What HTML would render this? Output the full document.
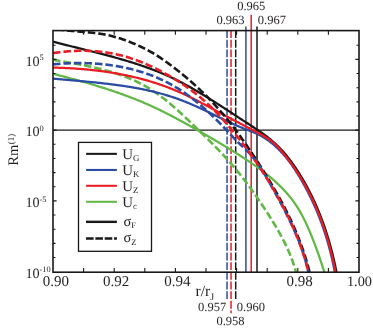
<!DOCTYPE html><html><head><meta charset="utf-8"><style>html,body{margin:0;padding:0;background:#fff}svg{display:block}text{font-family:"Liberation Serif",serif;fill:#231f20;text-rendering:geometricPrecision}</style></head><body>
<svg width="373" height="329" viewBox="0 0 373 329" style="will-change:transform">
<rect width="373" height="329" fill="#fff"/>
<defs><clipPath id="c"><rect x="53.0" y="30.6" width="306.0" height="241.6"/></clipPath></defs>
<line x1="227.05" y1="30.1" x2="227.05" y2="299.9" stroke="#2c4ca4" stroke-width="1.5" stroke-dasharray="7.9 1.77"/>
<line x1="231.05" y1="30.1" x2="231.05" y2="313.2" stroke="#ea1c24" stroke-width="1.5" stroke-dasharray="7.9 1.77"/>
<line x1="235.7" y1="30.1" x2="235.7" y2="299.9" stroke="#1a1718" stroke-width="1.5" stroke-dasharray="7.9 1.77"/>
<line x1="245.9" y1="26.5" x2="245.9" y2="272.2" stroke="#2c4ca4" stroke-width="1.5"/>
<line x1="251.2" y1="14.7" x2="251.2" y2="272.2" stroke="#ea1c24" stroke-width="1.5"/>
<line x1="257.0" y1="26.5" x2="257.0" y2="272.2" stroke="#1a1718" stroke-width="1.5"/>
<line x1="53.0" y1="130.15" x2="359.0" y2="130.15" stroke="#1a1718" stroke-width="1.1"/>
<g clip-path="url(#c)" fill="none" stroke-width="2.25" stroke-linejoin="round">
<path d="M53.00,73.80 L53.86,74.02 L54.72,74.24 L55.57,74.46 L56.43,74.68 L57.29,74.90 L58.15,75.12 L59.01,75.34 L59.87,75.56 L60.72,75.79 L61.58,76.01 L62.44,76.23 L63.30,76.46 L64.15,76.68 L65.01,76.91 L65.87,77.13 L66.73,77.36 L67.58,77.59 L68.44,77.82 L69.30,78.04 L70.16,78.27 L71.01,78.50 L71.87,78.73 L72.73,78.97 L73.58,79.20 L74.44,79.43 L75.29,79.66 L76.15,79.90 L77.00,80.13 L77.86,80.37 L78.72,80.61 L79.57,80.84 L80.42,81.08 L81.28,81.32 L82.13,81.56 L82.99,81.80 L83.84,82.05 L84.69,82.29 L85.55,82.53 L86.40,82.78 L87.25,83.02 L88.11,83.27 L88.96,83.52 L89.81,83.77 L90.66,84.02 L91.51,84.27 L92.36,84.52 L93.21,84.77 L94.06,85.03 L94.91,85.28 L95.76,85.54 L96.61,85.80 L97.46,86.05 L98.31,86.31 L99.15,86.57 L100.00,86.84 L100.85,87.10 L101.69,87.37 L102.54,87.63 L103.39,87.90 L104.23,88.17 L105.08,88.44 L105.92,88.71 L106.76,88.98 L107.61,89.25 L108.45,89.53 L109.29,89.81 L110.13,90.08 L110.98,90.36 L111.82,90.64 L112.66,90.93 L113.50,91.21 L114.34,91.49 L115.17,91.78 L116.01,92.07 L116.85,92.36 L117.69,92.65 L118.52,92.94 L119.36,93.24 L120.19,93.53 L121.03,93.83 L121.86,94.13 L122.70,94.43 L123.53,94.73 L124.36,95.03 L125.19,95.34 L126.02,95.65 L126.85,95.95 L127.68,96.27 L128.51,96.58 L129.34,96.89 L130.17,97.21 L131.00,97.52 L131.82,97.84 L132.65,98.16 L133.47,98.49 L134.30,98.81 L135.12,99.14 L135.94,99.47 L136.76,99.80 L137.59,100.13 L138.41,100.46 L139.23,100.80 L140.04,101.14 L140.86,101.48 L141.68,101.82 L142.50,102.16 L143.31,102.51 L144.13,102.86 L144.94,103.21 L145.75,103.56 L146.57,103.91 L147.38,104.27 L148.19,104.62 L149.00,104.98 L149.81,105.35 L150.61,105.71 L151.42,106.08 L152.23,106.45 L153.03,106.82 L153.84,107.19 L154.64,107.56 L155.45,107.94 L156.25,108.32 L157.05,108.70 L157.85,109.08 L158.65,109.47 L159.45,109.85 L160.25,110.24 L161.04,110.63 L161.84,111.02 L162.64,111.41 L163.43,111.81 L164.23,112.20 L165.02,112.60 L165.81,113.00 L166.60,113.40 L167.40,113.80 L168.19,114.20 L168.98,114.61 L169.77,115.02 L170.55,115.42 L171.34,115.83 L172.13,116.24 L172.92,116.66 L173.70,117.07 L174.49,117.48 L175.27,117.90 L176.06,118.31 L176.84,118.73 L177.62,119.15 L178.41,119.57 L179.19,119.99 L179.97,120.41 L180.75,120.84 L181.53,121.26 L182.31,121.68 L183.09,122.11 L183.86,122.54 L184.64,122.96 L185.42,123.39 L186.20,123.82 L186.97,124.25 L187.75,124.68 L188.52,125.11 L189.30,125.54 L190.07,125.98 L190.84,126.41 L191.62,126.84 L192.39,127.28 L193.16,127.71 L193.93,128.15 L194.71,128.58 L195.48,129.02 L196.25,129.45 L197.02,129.89 L197.79,130.33 L198.56,130.76 L199.32,131.20 L200.09,131.64 L200.86,132.08 L201.63,132.51 L202.39,132.95 L203.16,133.39 L203.93,133.83 L204.69,134.27 L205.46,134.71 L206.22,135.15 L206.99,135.59 L207.75,136.03 L208.52,136.48 L209.28,136.92 L210.04,137.36 L210.81,137.81 L211.57,138.25 L212.33,138.70 L213.09,139.14 L213.85,139.59 L214.61,140.03 L215.37,140.48 L216.14,140.93 L216.89,141.38 L217.65,141.83 L218.41,142.28 L219.17,142.73 L219.93,143.18 L220.69,143.63 L221.45,144.09 L222.20,144.54 L222.96,145.00 L223.72,145.45 L224.47,145.91 L225.23,146.37 L225.98,146.83 L226.74,147.29 L227.49,147.75 L228.25,148.21 L229.00,148.67 L229.76,149.13 L230.51,149.60 L231.26,150.06 L232.02,150.53 L232.77,151.00 L233.52,151.47 L234.27,151.94 L235.02,152.41 L235.78,152.88 L236.53,153.35 L237.28,153.83 L238.03,154.30 L238.78,154.78 L239.53,155.26 L240.28,155.74 L241.02,156.22 L241.77,156.70 L242.52,157.19 L243.27,157.67 L244.02,158.16 L244.76,158.65 L245.51,159.13 L246.25,159.63 L247.00,160.12 L247.74,160.61 L248.48,161.11 L249.22,161.61 L249.97,162.11 L250.70,162.61 L251.44,163.11 L252.18,163.61 L252.91,164.12 L253.65,164.63 L254.38,165.14 L255.11,165.65 L255.84,166.17 L256.57,166.69 L257.29,167.20 L258.02,167.73 L258.74,168.25 L259.46,168.78 L260.18,169.30 L260.89,169.84 L261.61,170.37 L262.32,170.90 L263.03,171.44 L263.74,171.98 L264.44,172.53 L265.14,173.07 L265.84,173.62 L266.54,174.17 L267.23,174.73 L267.92,175.28 L268.61,175.84 L269.30,176.40 L269.98,176.97 L270.66,177.54 L271.34,178.11 L272.01,178.68 L272.68,179.26 L273.35,179.84 L274.02,180.42 L274.68,181.01 L275.33,181.60 L275.99,182.19 L276.64,182.79 L277.28,183.39 L277.93,183.99 L278.56,184.60 L279.20,185.21 L279.83,185.82 L280.46,186.44 L281.08,187.06 L281.70,187.69 L282.31,188.32 L282.92,188.95 L283.53,189.58 L284.13,190.22 L284.73,190.87 L285.32,191.51 L285.91,192.16 L286.49,192.82 L287.07,193.48 L287.65,194.14 L288.22,194.81 L288.78,195.48 L289.34,196.16 L289.89,196.84 L290.44,197.52 L290.99,198.21 L291.53,198.90 L292.06,199.60 L292.59,200.30 L293.11,201.00 L293.63,201.71 L294.14,202.43 L294.64,203.15 L295.14,203.87 L295.64,204.60 L296.13,205.33 L296.61,206.07 L297.09,206.81 L297.56,207.56 L298.03,208.31 L298.49,209.06 L298.95,209.82 L299.40,210.58 L299.84,211.35 L300.29,212.12 L300.72,212.89 L301.15,213.67 L301.58,214.44 L302.01,215.23 L302.42,216.01 L302.84,216.80 L303.25,217.59 L303.65,218.39 L304.06,219.18 L304.45,219.98 L304.85,220.78 L305.24,221.59 L305.62,222.39 L306.00,223.20 L306.38,224.01 L306.76,224.82 L307.13,225.64 L307.50,226.45 L307.86,227.27 L308.22,228.09 L308.58,228.91 L308.94,229.73 L309.29,230.55 L309.64,231.37 L309.99,232.20 L310.33,233.02 L310.68,233.85 L311.02,234.67 L311.35,235.50 L311.69,236.33 L312.02,237.16 L312.35,237.98 L312.68,238.81 L313.00,239.64 L313.33,240.47 L313.65,241.30 L313.97,242.13 L314.29,242.96 L314.60,243.79 L314.92,244.62 L315.23,245.45 L315.54,246.29 L315.85,247.12 L316.15,247.95 L316.46,248.78 L316.76,249.62 L317.06,250.45 L317.36,251.28 L317.66,252.12 L317.95,252.95 L318.25,253.79 L318.54,254.62 L318.83,255.46 L319.12,256.29 L319.41,257.13 L319.70,257.96 L319.98,258.80 L320.27,259.64 L320.55,260.47 L320.83,261.31 L321.11,262.14 L321.39,262.98 L321.67,263.82 L321.95,264.66 L322.23,265.49 L322.50,266.33 L322.78,267.17 L323.05,268.01 L323.32,268.84 L323.59,269.68 L323.86,270.52 L324.13,271.36 L324.40,272.20" stroke="#62b846"/>
<path d="M53.00,59.81 L53.82,59.95 L54.65,60.08 L55.48,60.22 L56.31,60.36 L57.14,60.50 L57.97,60.64 L58.80,60.78 L59.63,60.92 L60.46,61.06 L61.30,61.20 L62.13,61.34 L62.97,61.48 L63.80,61.62 L64.64,61.77 L65.47,61.91 L66.31,62.05 L67.15,62.20 L67.99,62.34 L68.83,62.49 L69.67,62.64 L70.51,62.79 L71.35,62.94 L72.19,63.09 L73.03,63.24 L73.87,63.39 L74.72,63.54 L75.56,63.70 L76.40,63.85 L77.24,64.01 L78.09,64.17 L78.93,64.33 L79.77,64.49 L80.61,64.65 L81.46,64.82 L82.30,64.98 L83.14,65.15 L83.98,65.32 L84.83,65.49 L85.67,65.66 L86.51,65.83 L87.35,66.01 L88.19,66.19 L89.04,66.37 L89.88,66.55 L90.72,66.73 L91.56,66.92 L92.40,67.10 L93.24,67.29 L94.07,67.48 L94.91,67.68 L95.75,67.87 L96.59,68.07 L97.42,68.27 L98.26,68.47 L99.09,68.68 L99.93,68.88 L100.76,69.09 L101.59,69.30 L102.42,69.52 L103.25,69.74 L104.08,69.96 L104.91,70.18 L105.74,70.40 L106.57,70.63 L107.39,70.86 L108.21,71.09 L109.04,71.33 L109.86,71.57 L110.68,71.81 L111.50,72.06 L112.32,72.30 L113.14,72.56 L113.95,72.81 L114.77,73.07 L115.58,73.33 L116.39,73.59 L117.20,73.86 L118.01,74.13 L118.82,74.40 L119.62,74.68 L120.42,74.96 L121.23,75.24 L122.03,75.53 L122.83,75.82 L123.62,76.12 L124.42,76.42 L125.21,76.72 L126.00,77.03 L126.79,77.33 L127.58,77.65 L128.37,77.97 L129.15,78.29 L129.93,78.61 L130.71,78.94 L131.49,79.28 L132.26,79.61 L133.04,79.95 L133.81,80.30 L134.58,80.65 L135.34,81.00 L136.11,81.36 L136.87,81.73 L137.63,82.09 L138.39,82.46 L139.14,82.84 L139.89,83.22 L140.64,83.61 L141.39,84.00 L142.13,84.39 L142.88,84.79 L143.61,85.19 L144.35,85.60 L145.09,86.01 L145.82,86.43 L146.55,86.86 L147.27,87.28 L147.99,87.71 L148.72,88.15 L149.43,88.59 L150.15,89.04 L150.86,89.49 L151.57,89.94 L152.28,90.40 L152.99,90.86 L153.69,91.33 L154.39,91.80 L155.09,92.27 L155.79,92.75 L156.48,93.24 L157.17,93.72 L157.86,94.21 L158.55,94.70 L159.24,95.20 L159.92,95.70 L160.60,96.21 L161.28,96.71 L161.96,97.23 L162.63,97.74 L163.31,98.26 L163.98,98.78 L164.65,99.30 L165.32,99.83 L165.98,100.36 L166.65,100.89 L167.31,101.42 L167.97,101.96 L168.63,102.50 L169.29,103.05 L169.94,103.59 L170.60,104.14 L171.25,104.69 L171.90,105.25 L172.55,105.80 L173.20,106.36 L173.84,106.92 L174.49,107.48 L175.13,108.05 L175.78,108.61 L176.42,109.18 L177.06,109.75 L177.70,110.33 L178.33,110.90 L178.97,111.48 L179.60,112.05 L180.24,112.63 L180.87,113.21 L181.50,113.79 L182.13,114.38 L182.76,114.96 L183.39,115.55 L184.02,116.13 L184.64,116.72 L185.27,117.31 L185.89,117.90 L186.52,118.49 L187.14,119.09 L187.76,119.68 L188.38,120.27 L189.01,120.87 L189.63,121.46 L190.24,122.06 L190.86,122.65 L191.48,123.25 L192.10,123.85 L192.72,124.45 L193.33,125.04 L193.95,125.64 L194.57,126.24 L195.18,126.84 L195.80,127.43 L196.41,128.03 L197.02,128.63 L197.64,129.23 L198.25,129.83 L198.87,130.42 L199.48,131.02 L200.09,131.62 L200.70,132.21 L201.32,132.81 L201.93,133.40 L202.54,134.00 L203.15,134.60 L203.76,135.19 L204.37,135.79 L204.98,136.39 L205.59,136.98 L206.20,137.58 L206.81,138.18 L207.41,138.77 L208.02,139.37 L208.63,139.97 L209.23,140.57 L209.83,141.16 L210.44,141.76 L211.04,142.36 L211.64,142.96 L212.24,143.56 L212.84,144.16 L213.44,144.77 L214.04,145.37 L214.63,145.97 L215.23,146.58 L215.82,147.18 L216.42,147.79 L217.01,148.39 L217.60,149.00 L218.19,149.61 L218.78,150.22 L219.36,150.83 L219.95,151.44 L220.53,152.06 L221.12,152.67 L221.70,153.29 L222.28,153.90 L222.86,154.52 L223.43,155.14 L224.01,155.76 L224.58,156.38 L225.16,157.01 L225.73,157.63 L226.30,158.26 L226.87,158.88 L227.43,159.51 L228.00,160.14 L228.56,160.77 L229.12,161.41 L229.68,162.04 L230.24,162.68 L230.80,163.32 L231.36,163.96 L231.91,164.60 L232.46,165.24 L233.01,165.89 L233.56,166.53 L234.11,167.18 L234.65,167.83 L235.20,168.48 L235.74,169.13 L236.28,169.79 L236.82,170.44 L237.36,171.10 L237.89,171.76 L238.43,172.42 L238.96,173.08 L239.49,173.74 L240.02,174.40 L240.55,175.07 L241.08,175.74 L241.61,176.40 L242.13,177.07 L242.65,177.74 L243.17,178.42 L243.69,179.09 L244.21,179.76 L244.73,180.44 L245.25,181.12 L245.76,181.79 L246.27,182.47 L246.79,183.15 L247.30,183.84 L247.81,184.52 L248.31,185.20 L248.82,185.89 L249.33,186.57 L249.83,187.26 L250.33,187.95 L250.83,188.64 L251.33,189.33 L251.83,190.02 L252.33,190.72 L252.83,191.41 L253.32,192.10 L253.82,192.80 L254.31,193.50 L254.80,194.19 L255.29,194.89 L255.78,195.59 L256.27,196.29 L256.76,197.00 L257.24,197.70 L257.73,198.40 L258.21,199.11 L258.69,199.81 L259.17,200.52 L259.65,201.22 L260.13,201.93 L260.61,202.64 L261.09,203.35 L261.56,204.06 L262.04,204.77 L262.51,205.48 L262.99,206.19 L263.46,206.91 L263.93,207.62 L264.40,208.33 L264.87,209.05 L265.34,209.76 L265.80,210.48 L266.27,211.20 L266.73,211.92 L267.20,212.63 L267.66,213.35 L268.12,214.07 L268.58,214.79 L269.04,215.51 L269.50,216.23 L269.96,216.96 L270.42,217.68 L270.87,218.40 L271.32,219.13 L271.77,219.85 L272.22,220.58 L272.67,221.31 L273.12,222.04 L273.56,222.77 L274.01,223.50 L274.45,224.23 L274.89,224.96 L275.32,225.69 L275.76,226.43 L276.19,227.16 L276.62,227.90 L277.05,228.63 L277.48,229.37 L277.90,230.11 L278.33,230.85 L278.75,231.59 L279.16,232.34 L279.58,233.08 L279.99,233.83 L280.40,234.57 L280.81,235.32 L281.21,236.07 L281.62,236.82 L282.01,237.57 L282.41,238.32 L282.80,239.08 L283.19,239.83 L283.58,240.59 L283.97,241.35 L284.35,242.11 L284.73,242.87 L285.10,243.63 L285.47,244.39 L285.84,245.16 L286.21,245.92 L286.57,246.69 L286.92,247.46 L287.28,248.23 L287.63,249.01 L287.98,249.78 L288.32,250.56 L288.66,251.34 L289.00,252.12 L289.33,252.90 L289.66,253.68 L289.98,254.46 L290.30,255.25 L290.62,256.04 L290.93,256.83 L291.24,257.62 L291.54,258.41 L291.84,259.21 L292.14,260.01 L292.43,260.80 L292.71,261.60 L293.00,262.41 L293.27,263.21 L293.55,264.02 L293.81,264.83 L294.08,265.64 L294.34,266.45 L294.59,267.26 L294.84,268.08 L295.08,268.90 L295.32,269.72 L295.56,270.54 L295.79,271.37 L296.01,272.20" stroke="#62b846" stroke-dasharray="7.5 3" stroke-width="2.6"/>
<path d="M53.00,78.60 L53.93,78.69 L54.87,78.78 L55.80,78.86 L56.73,78.95 L57.67,79.04 L58.60,79.12 L59.54,79.21 L60.47,79.29 L61.41,79.38 L62.35,79.46 L63.29,79.55 L64.22,79.63 L65.16,79.71 L66.10,79.80 L67.04,79.88 L67.98,79.96 L68.92,80.05 L69.86,80.13 L70.80,80.21 L71.74,80.30 L72.68,80.38 L73.62,80.46 L74.56,80.55 L75.50,80.63 L76.45,80.71 L77.39,80.80 L78.33,80.88 L79.27,80.97 L80.22,81.05 L81.16,81.14 L82.10,81.22 L83.05,81.31 L83.99,81.40 L84.93,81.49 L85.88,81.57 L86.82,81.66 L87.77,81.75 L88.71,81.84 L89.65,81.93 L90.60,82.02 L91.54,82.12 L92.49,82.21 L93.43,82.30 L94.38,82.40 L95.32,82.49 L96.27,82.59 L97.21,82.69 L98.15,82.78 L99.10,82.88 L100.04,82.98 L100.99,83.09 L101.93,83.19 L102.87,83.29 L103.82,83.40 L104.76,83.51 L105.70,83.61 L106.65,83.72 L107.59,83.83 L108.53,83.94 L109.48,84.06 L110.42,84.17 L111.36,84.29 L112.30,84.41 L113.24,84.53 L114.19,84.65 L115.13,84.77 L116.07,84.89 L117.01,85.02 L117.95,85.15 L118.89,85.28 L119.83,85.41 L120.77,85.54 L121.70,85.68 L122.64,85.81 L123.58,85.95 L124.52,86.09 L125.45,86.24 L126.39,86.38 L127.33,86.53 L128.26,86.68 L129.20,86.83 L130.13,86.98 L131.06,87.14 L132.00,87.30 L132.93,87.46 L133.86,87.62 L134.79,87.79 L135.73,87.95 L136.66,88.12 L137.59,88.30 L138.51,88.47 L139.44,88.65 L140.37,88.83 L141.30,89.01 L142.22,89.20 L143.15,89.39 L144.08,89.58 L145.00,89.77 L145.92,89.97 L146.85,90.17 L147.77,90.37 L148.69,90.57 L149.61,90.78 L150.53,90.99 L151.45,91.20 L152.37,91.42 L153.28,91.64 L154.20,91.86 L155.11,92.09 L156.03,92.32 L156.94,92.55 L157.85,92.79 L158.77,93.03 L159.68,93.27 L160.59,93.51 L161.50,93.76 L162.40,94.02 L163.31,94.27 L164.22,94.53 L165.12,94.79 L166.02,95.06 L166.93,95.33 L167.83,95.60 L168.73,95.88 L169.63,96.16 L170.53,96.45 L171.42,96.74 L172.32,97.03 L173.21,97.32 L174.11,97.62 L175.00,97.93 L175.89,98.24 L176.78,98.55 L177.67,98.86 L178.56,99.18 L179.44,99.51 L180.33,99.83 L181.21,100.17 L182.10,100.50 L182.98,100.84 L183.86,101.19 L184.74,101.53 L185.61,101.88 L186.49,102.24 L187.37,102.60 L188.24,102.96 L189.11,103.32 L189.99,103.69 L190.86,104.06 L191.73,104.43 L192.60,104.81 L193.47,105.19 L194.33,105.57 L195.20,105.95 L196.07,106.34 L196.93,106.73 L197.79,107.12 L198.66,107.51 L199.52,107.91 L200.38,108.30 L201.24,108.70 L202.10,109.10 L202.96,109.50 L203.82,109.91 L204.68,110.31 L205.53,110.72 L206.39,111.12 L207.25,111.53 L208.10,111.94 L208.96,112.35 L209.81,112.76 L210.66,113.17 L211.52,113.58 L212.37,113.99 L213.22,114.41 L214.07,114.82 L214.92,115.23 L215.77,115.65 L216.62,116.06 L217.47,116.47 L218.32,116.88 L219.17,117.30 L220.02,117.71 L220.87,118.12 L221.72,118.53 L222.57,118.94 L223.42,119.35 L224.27,119.76 L225.11,120.16 L225.96,120.57 L226.81,120.97 L227.66,121.38 L228.51,121.78 L229.36,122.18 L230.22,122.58 L231.07,122.97 L231.92,123.37 L232.78,123.76 L233.63,124.15 L234.49,124.53 L235.35,124.92 L236.21,125.30 L237.07,125.68 L237.94,126.06 L238.80,126.43 L239.67,126.80 L240.54,127.17 L241.41,127.53 L242.29,127.89 L243.16,128.25 L244.04,128.60 L244.92,128.95 L245.81,129.30 L246.69,129.64 L247.58,129.98 L248.47,130.32 L249.36,130.66 L250.25,130.99 L251.14,131.34 L252.02,131.68 L252.90,132.03 L253.78,132.39 L254.65,132.75 L255.52,133.13 L256.38,133.52 L257.23,133.91 L258.07,134.32 L258.91,134.74 L259.74,135.17 L260.56,135.61 L261.37,136.06 L262.18,136.53 L262.98,137.00 L263.78,137.48 L264.56,137.97 L265.35,138.47 L266.12,138.99 L266.89,139.51 L267.65,140.04 L268.40,140.58 L269.15,141.12 L269.89,141.68 L270.63,142.25 L271.36,142.82 L272.08,143.41 L272.79,144.00 L273.50,144.60 L274.21,145.21 L274.91,145.82 L275.60,146.45 L276.28,147.08 L276.96,147.72 L277.64,148.36 L278.31,149.02 L278.97,149.68 L279.63,150.34 L280.28,151.02 L280.93,151.70 L281.57,152.39 L282.20,153.08 L282.83,153.78 L283.46,154.49 L284.08,155.20 L284.69,155.92 L285.30,156.64 L285.90,157.37 L286.50,158.10 L287.10,158.84 L287.69,159.59 L288.27,160.34 L288.85,161.09 L289.42,161.85 L289.99,162.62 L290.56,163.38 L291.12,164.16 L291.68,164.93 L292.23,165.71 L292.78,166.50 L293.32,167.28 L293.86,168.08 L294.39,168.87 L294.92,169.67 L295.45,170.47 L295.97,171.27 L296.49,172.08 L297.01,172.89 L297.52,173.70 L298.02,174.52 L298.53,175.34 L299.02,176.15 L299.52,176.98 L300.01,177.80 L300.50,178.62 L300.98,179.45 L301.47,180.28 L301.94,181.11 L302.42,181.94 L302.89,182.77 L303.36,183.60 L303.82,184.43 L304.28,185.27 L304.74,186.10 L305.20,186.94 L305.65,187.77 L306.10,188.61 L306.54,189.45 L306.98,190.29 L307.42,191.13 L307.86,191.97 L308.29,192.82 L308.72,193.66 L309.15,194.51 L309.57,195.35 L309.99,196.20 L310.41,197.05 L310.82,197.90 L311.23,198.75 L311.64,199.60 L312.04,200.45 L312.44,201.31 L312.84,202.16 L313.23,203.02 L313.62,203.87 L314.01,204.73 L314.40,205.59 L314.78,206.45 L315.16,207.31 L315.54,208.17 L315.91,209.04 L316.28,209.90 L316.64,210.76 L317.01,211.63 L317.37,212.50 L317.73,213.37 L318.08,214.24 L318.43,215.11 L318.78,215.98 L319.13,216.85 L319.47,217.72 L319.81,218.60 L320.15,219.47 L320.48,220.35 L320.81,221.23 L321.14,222.11 L321.46,222.99 L321.78,223.87 L322.10,224.75 L322.42,225.64 L322.73,226.52 L323.04,227.41 L323.35,228.29 L323.65,229.18 L323.96,230.07 L324.25,230.96 L324.55,231.85 L324.84,232.75 L325.13,233.64 L325.42,234.53 L325.70,235.43 L325.98,236.33 L326.26,237.22 L326.54,238.12 L326.81,239.02 L327.08,239.93 L327.35,240.83 L327.61,241.73 L327.87,242.64 L328.13,243.54 L328.39,244.45 L328.64,245.36 L328.89,246.27 L329.14,247.18 L329.38,248.09 L329.63,249.00 L329.86,249.92 L330.10,250.83 L330.33,251.75 L330.57,252.67 L330.79,253.58 L331.02,254.50 L331.24,255.43 L331.46,256.35 L331.68,257.27 L331.90,258.20 L332.11,259.12 L332.32,260.05 L332.52,260.98 L332.73,261.90 L332.93,262.84 L333.13,263.77 L333.33,264.70 L333.52,265.63 L333.71,266.57 L333.90,267.50 L334.08,268.44 L334.27,269.38 L334.45,270.32 L334.63,271.26 L334.80,272.20" stroke="#2c4ca4"/>
<path d="M53.00,41.61 L53.94,41.86 L54.89,42.11 L55.83,42.36 L56.78,42.61 L57.72,42.85 L58.67,43.10 L59.62,43.35 L60.57,43.59 L61.52,43.84 L62.46,44.08 L63.41,44.32 L64.36,44.56 L65.31,44.81 L66.26,45.05 L67.22,45.29 L68.17,45.53 L69.12,45.77 L70.07,46.01 L71.02,46.25 L71.98,46.48 L72.93,46.72 L73.88,46.96 L74.84,47.20 L75.79,47.44 L76.74,47.67 L77.70,47.91 L78.65,48.15 L79.61,48.38 L80.56,48.62 L81.52,48.86 L82.47,49.10 L83.43,49.33 L84.38,49.57 L85.34,49.81 L86.29,50.05 L87.25,50.28 L88.21,50.52 L89.16,50.76 L90.12,51.00 L91.07,51.24 L92.03,51.48 L92.98,51.72 L93.94,51.96 L94.89,52.20 L95.85,52.44 L96.80,52.69 L97.76,52.93 L98.71,53.17 L99.66,53.42 L100.62,53.67 L101.57,53.91 L102.53,54.16 L103.48,54.41 L104.43,54.66 L105.38,54.91 L106.34,55.16 L107.29,55.41 L108.24,55.66 L109.19,55.92 L110.14,56.17 L111.09,56.43 L112.04,56.69 L112.99,56.94 L113.94,57.20 L114.89,57.47 L115.84,57.73 L116.79,57.99 L117.73,58.26 L118.68,58.53 L119.63,58.79 L120.57,59.07 L121.52,59.34 L122.46,59.61 L123.40,59.89 L124.35,60.16 L125.29,60.44 L126.23,60.72 L127.17,61.00 L128.11,61.29 L129.05,61.57 L129.99,61.86 L130.93,62.15 L131.86,62.44 L132.80,62.74 L133.73,63.03 L134.67,63.33 L135.60,63.63 L136.53,63.93 L137.47,64.24 L138.40,64.54 L139.33,64.85 L140.26,65.16 L141.18,65.48 L142.11,65.79 L143.04,66.11 L143.96,66.43 L144.89,66.76 L145.81,67.08 L146.73,67.41 L147.65,67.74 L148.57,68.08 L149.49,68.41 L150.41,68.75 L151.32,69.10 L152.24,69.44 L153.15,69.79 L154.06,70.14 L154.97,70.49 L155.88,70.85 L156.79,71.21 L157.70,71.57 L158.61,71.94 L159.51,72.31 L160.41,72.68 L161.32,73.05 L162.22,73.43 L163.12,73.81 L164.01,74.20 L164.91,74.59 L165.80,74.98 L166.70,75.37 L167.59,75.77 L168.48,76.17 L169.37,76.58 L170.26,76.99 L171.14,77.40 L172.03,77.82 L172.91,78.24 L173.79,78.66 L174.67,79.08 L175.55,79.51 L176.43,79.95 L177.30,80.38 L178.18,80.82 L179.05,81.26 L179.92,81.71 L180.79,82.16 L181.66,82.61 L182.53,83.06 L183.39,83.52 L184.26,83.98 L185.12,84.44 L185.99,84.91 L186.85,85.38 L187.71,85.85 L188.57,86.32 L189.42,86.80 L190.28,87.28 L191.14,87.76 L191.99,88.24 L192.85,88.73 L193.70,89.21 L194.55,89.70 L195.40,90.20 L196.25,90.69 L197.10,91.19 L197.95,91.69 L198.79,92.19 L199.64,92.69 L200.48,93.19 L201.33,93.70 L202.17,94.21 L203.01,94.72 L203.86,95.23 L204.70,95.74 L205.54,96.26 L206.38,96.78 L207.21,97.29 L208.05,97.81 L208.89,98.33 L209.73,98.86 L210.56,99.38 L211.40,99.91 L212.23,100.43 L213.07,100.96 L213.90,101.49 L214.73,102.02 L215.57,102.55 L216.40,103.08 L217.23,103.61 L218.06,104.15 L218.89,104.68 L219.72,105.22 L220.55,105.75 L221.38,106.29 L222.21,106.83 L223.04,107.36 L223.86,107.90 L224.69,108.44 L225.52,108.98 L226.35,109.52 L227.17,110.06 L228.00,110.60 L228.83,111.14 L229.65,111.68 L230.48,112.22 L231.31,112.76 L232.13,113.30 L232.96,113.85 L233.78,114.39 L234.61,114.93 L235.44,115.47 L236.26,116.01 L237.09,116.55 L237.91,117.09 L238.74,117.63 L239.56,118.17 L240.39,118.71 L241.21,119.25 L242.04,119.79 L242.87,120.33 L243.69,120.86 L244.52,121.40 L245.34,121.93 L246.17,122.47 L247.00,123.00 L247.82,123.54 L248.65,124.07 L249.48,124.61 L250.30,125.14 L251.12,125.68 L251.95,126.22 L252.77,126.75 L253.59,127.29 L254.41,127.83 L255.22,128.37 L256.04,128.92 L256.85,129.46 L257.66,130.01 L258.47,130.56 L259.28,131.11 L260.08,131.67 L260.88,132.23 L261.68,132.79 L262.47,133.36 L263.26,133.93 L264.05,134.50 L264.84,135.08 L265.62,135.66 L266.39,136.24 L267.16,136.84 L267.93,137.43 L268.70,138.03 L269.45,138.64 L270.21,139.25 L270.96,139.87 L271.70,140.49 L272.44,141.12 L273.17,141.76 L273.90,142.40 L274.62,143.05 L275.34,143.71 L276.05,144.37 L276.75,145.04 L277.45,145.72 L278.15,146.40 L278.83,147.09 L279.52,147.78 L280.19,148.49 L280.86,149.19 L281.53,149.91 L282.19,150.63 L282.84,151.35 L283.49,152.09 L284.13,152.82 L284.77,153.56 L285.41,154.31 L286.04,155.06 L286.66,155.82 L287.28,156.58 L287.89,157.35 L288.50,158.12 L289.10,158.90 L289.70,159.68 L290.30,160.46 L290.89,161.25 L291.47,162.04 L292.06,162.83 L292.63,163.63 L293.20,164.44 L293.77,165.24 L294.34,166.05 L294.90,166.87 L295.45,167.68 L296.00,168.50 L296.55,169.32 L297.09,170.14 L297.63,170.97 L298.17,171.80 L298.70,172.63 L299.23,173.47 L299.75,174.30 L300.27,175.14 L300.79,175.98 L301.30,176.82 L301.81,177.66 L302.32,178.51 L302.82,179.36 L303.32,180.21 L303.81,181.06 L304.30,181.91 L304.79,182.77 L305.27,183.63 L305.75,184.49 L306.23,185.35 L306.70,186.21 L307.17,187.08 L307.63,187.94 L308.10,188.81 L308.56,189.68 L309.01,190.56 L309.46,191.43 L309.91,192.31 L310.35,193.18 L310.80,194.06 L311.23,194.94 L311.67,195.83 L312.10,196.71 L312.52,197.60 L312.95,198.48 L313.37,199.37 L313.78,200.26 L314.20,201.16 L314.61,202.05 L315.01,202.95 L315.42,203.84 L315.82,204.74 L316.21,205.64 L316.61,206.54 L317.00,207.44 L317.38,208.35 L317.77,209.25 L318.15,210.16 L318.52,211.07 L318.90,211.98 L319.27,212.89 L319.63,213.80 L320.00,214.72 L320.36,215.63 L320.72,216.55 L321.07,217.47 L321.42,218.38 L321.77,219.30 L322.11,220.22 L322.45,221.15 L322.79,222.07 L323.13,222.99 L323.46,223.92 L323.79,224.85 L324.11,225.78 L324.44,226.70 L324.76,227.63 L325.07,228.56 L325.39,229.50 L325.70,230.43 L326.00,231.36 L326.31,232.30 L326.61,233.23 L326.91,234.17 L327.20,235.11 L327.50,236.05 L327.78,236.99 L328.07,237.93 L328.35,238.87 L328.64,239.81 L328.91,240.75 L329.19,241.70 L329.46,242.64 L329.73,243.59 L329.99,244.53 L330.26,245.48 L330.52,246.43 L330.77,247.37 L331.03,248.32 L331.28,249.27 L331.53,250.22 L331.78,251.17 L332.02,252.12 L332.26,253.07 L332.50,254.03 L332.73,254.98 L332.97,255.93 L333.19,256.89 L333.42,257.84 L333.65,258.79 L333.87,259.75 L334.09,260.70 L334.30,261.66 L334.51,262.62 L334.73,263.57 L334.93,264.53 L335.14,265.49 L335.34,266.44 L335.54,267.40 L335.74,268.36 L335.93,269.32 L336.13,270.28 L336.32,271.24 L336.50,272.20" stroke="#1a1718"/>
<path d="M53.00,67.62 L53.96,67.64 L54.91,67.66 L55.87,67.68 L56.83,67.71 L57.79,67.74 L58.75,67.76 L59.71,67.80 L60.67,67.83 L61.63,67.86 L62.59,67.90 L63.55,67.94 L64.51,67.98 L65.46,68.02 L66.42,68.07 L67.38,68.11 L68.34,68.16 L69.30,68.21 L70.26,68.26 L71.22,68.32 L72.18,68.37 L73.14,68.43 L74.09,68.49 L75.05,68.56 L76.01,68.62 L76.97,68.69 L77.93,68.76 L78.88,68.83 L79.84,68.90 L80.80,68.98 L81.76,69.05 L82.71,69.13 L83.67,69.21 L84.63,69.30 L85.58,69.38 L86.54,69.47 L87.50,69.56 L88.45,69.66 L89.41,69.75 L90.36,69.85 L91.32,69.95 L92.27,70.05 L93.22,70.15 L94.18,70.26 L95.13,70.37 L96.09,70.48 L97.04,70.59 L97.99,70.71 L98.94,70.83 L99.89,70.95 L100.85,71.07 L101.80,71.20 L102.75,71.33 L103.70,71.46 L104.65,71.59 L105.59,71.73 L106.54,71.87 L107.49,72.01 L108.44,72.15 L109.39,72.30 L110.33,72.45 L111.28,72.60 L112.22,72.75 L113.17,72.91 L114.11,73.07 L115.06,73.23 L116.00,73.39 L116.94,73.56 L117.89,73.73 L118.83,73.90 L119.77,74.08 L120.71,74.26 L121.65,74.44 L122.59,74.62 L123.53,74.81 L124.47,75.00 L125.40,75.19 L126.34,75.38 L127.28,75.58 L128.21,75.78 L129.14,75.98 L130.08,76.19 L131.01,76.40 L131.94,76.61 L132.88,76.83 L133.81,77.04 L134.74,77.26 L135.66,77.49 L136.59,77.72 L137.52,77.94 L138.45,78.18 L139.37,78.41 L140.30,78.65 L141.22,78.89 L142.15,79.14 L143.07,79.39 L143.99,79.64 L144.91,79.89 L145.83,80.15 L146.75,80.41 L147.67,80.67 L148.58,80.94 L149.50,81.21 L150.42,81.49 L151.33,81.76 L152.24,82.04 L153.16,82.32 L154.07,82.61 L154.98,82.90 L155.89,83.19 L156.79,83.49 L157.70,83.79 L158.61,84.09 L159.51,84.40 L160.42,84.71 L161.32,85.02 L162.22,85.33 L163.12,85.65 L164.02,85.98 L164.92,86.30 L165.82,86.63 L166.72,86.97 L167.61,87.30 L168.50,87.64 L169.40,87.99 L170.29,88.33 L171.18,88.69 L172.07,89.04 L172.96,89.40 L173.84,89.76 L174.73,90.12 L175.61,90.49 L176.50,90.86 L177.38,91.24 L178.26,91.62 L179.14,92.00 L180.02,92.39 L180.89,92.78 L181.77,93.17 L182.64,93.57 L183.52,93.97 L184.39,94.38 L185.26,94.78 L186.13,95.19 L187.00,95.61 L187.86,96.02 L188.73,96.44 L189.59,96.86 L190.46,97.29 L191.32,97.72 L192.18,98.14 L193.04,98.58 L193.90,99.01 L194.76,99.45 L195.62,99.88 L196.48,100.32 L197.34,100.76 L198.19,101.21 L199.05,101.65 L199.90,102.10 L200.76,102.55 L201.61,103.00 L202.46,103.45 L203.31,103.90 L204.17,104.35 L205.02,104.80 L205.87,105.26 L206.72,105.71 L207.57,106.17 L208.41,106.62 L209.26,107.08 L210.11,107.53 L210.96,107.99 L211.81,108.45 L212.65,108.90 L213.50,109.36 L214.34,109.82 L215.19,110.27 L216.04,110.73 L216.88,111.18 L217.73,111.64 L218.57,112.09 L219.42,112.54 L220.26,113.00 L221.11,113.45 L221.95,113.90 L222.80,114.35 L223.64,114.80 L224.49,115.24 L225.33,115.69 L226.17,116.14 L227.02,116.58 L227.86,117.03 L228.71,117.47 L229.55,117.92 L230.39,118.36 L231.24,118.80 L232.08,119.25 L232.93,119.69 L233.77,120.13 L234.61,120.57 L235.46,121.01 L236.30,121.45 L237.14,121.89 L237.99,122.34 L238.83,122.78 L239.67,123.22 L240.52,123.66 L241.36,124.10 L242.20,124.54 L243.05,124.98 L243.89,125.42 L244.73,125.86 L245.58,126.30 L246.42,126.75 L247.26,127.19 L248.10,127.63 L248.95,128.07 L249.79,128.52 L250.63,128.96 L251.48,129.40 L252.32,129.85 L253.16,130.30 L254.00,130.74 L254.85,131.19 L255.69,131.64 L256.53,132.08 L257.37,132.53 L258.22,132.98 L259.06,133.44 L259.90,133.89 L260.73,134.35 L261.57,134.81 L262.40,135.28 L263.23,135.76 L264.05,136.24 L264.87,136.72 L265.68,137.22 L266.49,137.72 L267.29,138.23 L268.08,138.75 L268.87,139.28 L269.64,139.82 L270.41,140.38 L271.17,140.94 L271.92,141.52 L272.66,142.11 L273.39,142.72 L274.11,143.34 L274.82,143.97 L275.52,144.62 L276.20,145.29 L276.88,145.96 L277.54,146.65 L278.20,147.35 L278.85,148.06 L279.49,148.77 L280.13,149.49 L280.76,150.22 L281.38,150.96 L282.00,151.70 L282.62,152.44 L283.23,153.18 L283.84,153.93 L284.45,154.68 L285.05,155.43 L285.65,156.18 L286.24,156.94 L286.84,157.70 L287.42,158.46 L288.01,159.23 L288.59,159.99 L289.17,160.76 L289.74,161.53 L290.31,162.31 L290.88,163.08 L291.44,163.86 L292.00,164.64 L292.56,165.43 L293.11,166.21 L293.66,167.00 L294.20,167.79 L294.75,168.58 L295.28,169.37 L295.82,170.17 L296.35,170.97 L296.88,171.77 L297.40,172.57 L297.92,173.38 L298.44,174.19 L298.95,175.00 L299.46,175.81 L299.97,176.62 L300.47,177.44 L300.97,178.25 L301.47,179.07 L301.96,179.90 L302.45,180.72 L302.94,181.55 L303.42,182.37 L303.90,183.20 L304.37,184.03 L304.84,184.87 L305.31,185.70 L305.78,186.54 L306.24,187.38 L306.69,188.22 L307.15,189.06 L307.60,189.91 L308.04,190.76 L308.49,191.60 L308.93,192.45 L309.37,193.31 L309.80,194.16 L310.23,195.02 L310.66,195.87 L311.08,196.73 L311.50,197.59 L311.91,198.45 L312.33,199.32 L312.74,200.18 L313.14,201.05 L313.55,201.92 L313.95,202.79 L314.34,203.66 L314.74,204.53 L315.13,205.41 L315.52,206.28 L315.90,207.16 L316.28,208.04 L316.66,208.92 L317.03,209.80 L317.40,210.69 L317.77,211.57 L318.13,212.46 L318.49,213.35 L318.85,214.23 L319.21,215.12 L319.56,216.02 L319.91,216.91 L320.25,217.80 L320.60,218.70 L320.94,219.60 L321.27,220.49 L321.61,221.39 L321.94,222.29 L322.26,223.19 L322.59,224.10 L322.91,225.00 L323.23,225.91 L323.54,226.81 L323.85,227.72 L324.16,228.63 L324.47,229.54 L324.77,230.45 L325.07,231.36 L325.37,232.27 L325.66,233.18 L325.95,234.10 L326.24,235.01 L326.53,235.93 L326.81,236.84 L327.09,237.76 L327.37,238.68 L327.64,239.60 L327.91,240.52 L328.18,241.44 L328.44,242.36 L328.71,243.29 L328.97,244.21 L329.22,245.14 L329.48,246.06 L329.73,246.99 L329.98,247.91 L330.22,248.84 L330.47,249.77 L330.71,250.70 L330.94,251.63 L331.18,252.56 L331.41,253.49 L331.64,254.42 L331.87,255.35 L332.09,256.28 L332.31,257.22 L332.53,258.15 L332.75,259.08 L332.96,260.02 L333.17,260.95 L333.38,261.89 L333.59,262.82 L333.79,263.76 L333.99,264.69 L334.19,265.63 L334.38,266.57 L334.58,267.51 L334.77,268.44 L334.95,269.38 L335.14,270.32 L335.32,271.26 L335.50,272.20" stroke="#ea1c24"/>
<path d="M56.50,29.01 L57.43,29.16 L58.36,29.31 L59.29,29.45 L60.22,29.59 L61.15,29.72 L62.09,29.84 L63.02,29.97 L63.95,30.08 L64.89,30.19 L65.82,30.30 L66.76,30.41 L67.69,30.51 L68.63,30.61 L69.57,30.70 L70.50,30.79 L71.44,30.88 L72.38,30.97 L73.32,31.06 L74.25,31.14 L75.19,31.22 L76.13,31.30 L77.07,31.38 L78.00,31.46 L78.94,31.54 L79.88,31.62 L80.82,31.70 L81.75,31.78 L82.69,31.86 L83.63,31.93 L84.56,32.02 L85.50,32.10 L86.44,32.18 L87.37,32.27 L88.31,32.35 L89.24,32.44 L90.18,32.54 L91.11,32.63 L92.04,32.73 L92.97,32.83 L93.91,32.94 L94.84,33.05 L95.77,33.16 L96.70,33.28 L97.63,33.40 L98.55,33.53 L99.48,33.66 L100.41,33.79 L101.33,33.94 L102.26,34.08 L103.18,34.24 L104.10,34.40 L105.02,34.57 L105.94,34.74 L106.86,34.92 L107.78,35.11 L108.69,35.31 L109.61,35.51 L110.52,35.73 L111.43,35.95 L112.35,36.17 L113.26,36.41 L114.16,36.65 L115.07,36.90 L115.97,37.16 L116.88,37.43 L117.78,37.70 L118.68,37.98 L119.58,38.26 L120.48,38.55 L121.37,38.85 L122.27,39.15 L123.16,39.46 L124.05,39.78 L124.94,40.10 L125.83,40.42 L126.71,40.75 L127.59,41.09 L128.48,41.43 L129.36,41.77 L130.23,42.12 L131.11,42.47 L131.98,42.83 L132.86,43.19 L133.73,43.55 L134.59,43.92 L135.46,44.29 L136.32,44.67 L137.18,45.05 L138.04,45.44 L138.90,45.83 L139.75,46.22 L140.61,46.62 L141.45,47.03 L142.30,47.44 L143.15,47.85 L143.99,48.27 L144.82,48.69 L145.66,49.12 L146.49,49.55 L147.32,49.99 L148.15,50.43 L148.97,50.88 L149.79,51.33 L150.61,51.78 L151.43,52.25 L152.24,52.71 L153.05,53.19 L153.85,53.66 L154.65,54.14 L155.45,54.63 L156.24,55.13 L157.03,55.62 L157.82,56.13 L158.61,56.64 L159.39,57.15 L160.16,57.67 L160.94,58.19 L161.71,58.71 L162.48,59.24 L163.25,59.78 L164.02,60.32 L164.78,60.86 L165.54,61.40 L166.30,61.95 L167.06,62.49 L167.82,63.04 L168.58,63.60 L169.33,64.15 L170.09,64.71 L170.84,65.27 L171.59,65.83 L172.34,66.40 L173.09,66.96 L173.84,67.53 L174.59,68.11 L175.33,68.68 L176.07,69.26 L176.82,69.83 L177.56,70.42 L178.30,71.00 L179.03,71.58 L179.77,72.17 L180.50,72.76 L181.24,73.35 L181.97,73.95 L182.70,74.55 L183.43,75.14 L184.15,75.75 L184.88,76.35 L185.60,76.95 L186.32,77.56 L187.04,78.17 L187.76,78.78 L188.48,79.40 L189.19,80.02 L189.91,80.63 L190.62,81.25 L191.33,81.88 L192.04,82.50 L192.74,83.13 L193.45,83.76 L194.15,84.39 L194.85,85.02 L195.55,85.66 L196.25,86.30 L196.94,86.94 L197.63,87.58 L198.33,88.22 L199.01,88.87 L199.70,89.52 L200.39,90.17 L201.07,90.82 L201.75,91.47 L202.43,92.13 L203.11,92.79 L203.78,93.45 L204.46,94.11 L205.13,94.77 L205.80,95.44 L206.46,96.11 L207.13,96.78 L207.79,97.45 L208.45,98.12 L209.11,98.80 L209.77,99.48 L210.42,100.16 L211.07,100.84 L211.72,101.52 L212.37,102.21 L213.01,102.90 L213.66,103.59 L214.30,104.28 L214.94,104.97 L215.57,105.66 L216.20,106.36 L216.84,107.06 L217.46,107.76 L218.09,108.46 L218.71,109.17 L219.34,109.87 L219.95,110.58 L220.57,111.29 L221.19,112.00 L221.80,112.72 L222.41,113.43 L223.01,114.15 L223.62,114.86 L224.22,115.58 L224.82,116.31 L225.42,117.03 L226.01,117.75 L226.61,118.48 L227.20,119.21 L227.79,119.94 L228.38,120.67 L228.96,121.40 L229.54,122.14 L230.12,122.87 L230.70,123.61 L231.28,124.35 L231.86,125.09 L232.43,125.83 L233.00,126.58 L233.57,127.32 L234.14,128.07 L234.70,128.81 L235.27,129.56 L235.83,130.31 L236.39,131.06 L236.95,131.82 L237.51,132.57 L238.06,133.33 L238.62,134.08 L239.17,134.84 L239.72,135.60 L240.27,136.36 L240.82,137.12 L241.36,137.88 L241.91,138.65 L242.45,139.41 L242.99,140.18 L243.53,140.95 L244.07,141.71 L244.61,142.48 L245.15,143.25 L245.68,144.02 L246.22,144.80 L246.75,145.57 L247.28,146.34 L247.81,147.12 L248.34,147.89 L248.87,148.67 L249.40,149.45 L249.92,150.23 L250.45,151.01 L250.97,151.79 L251.49,152.57 L252.02,153.35 L252.54,154.13 L253.06,154.92 L253.58,155.70 L254.10,156.48 L254.61,157.27 L255.13,158.06 L255.65,158.84 L256.16,159.63 L256.68,160.42 L257.19,161.21 L257.70,162.00 L258.22,162.79 L258.73,163.58 L259.24,164.37 L259.75,165.16 L260.26,165.96 L260.77,166.75 L261.27,167.54 L261.78,168.34 L262.28,169.13 L262.79,169.93 L263.29,170.73 L263.79,171.53 L264.29,172.33 L264.79,173.13 L265.29,173.93 L265.79,174.73 L266.28,175.53 L266.78,176.33 L267.27,177.13 L267.77,177.94 L268.26,178.74 L268.75,179.55 L269.24,180.36 L269.72,181.16 L270.21,181.97 L270.69,182.78 L271.18,183.59 L271.66,184.40 L272.14,185.21 L272.62,186.02 L273.10,186.84 L273.57,187.65 L274.05,188.46 L274.52,189.28 L274.99,190.10 L275.46,190.91 L275.93,191.73 L276.39,192.55 L276.86,193.37 L277.32,194.19 L277.78,195.01 L278.24,195.83 L278.70,196.66 L279.16,197.48 L279.61,198.31 L280.07,199.13 L280.52,199.96 L280.97,200.79 L281.41,201.61 L281.86,202.44 L282.30,203.27 L282.74,204.11 L283.18,204.94 L283.62,205.77 L284.06,206.60 L284.49,207.44 L284.92,208.28 L285.35,209.11 L285.78,209.95 L286.21,210.79 L286.63,211.63 L287.05,212.47 L287.47,213.31 L287.89,214.15 L288.30,215.00 L288.71,215.84 L289.12,216.69 L289.53,217.54 L289.94,218.38 L290.34,219.23 L290.74,220.08 L291.14,220.93 L291.54,221.79 L291.93,222.64 L292.32,223.49 L292.71,224.35 L293.10,225.20 L293.48,226.06 L293.86,226.92 L294.24,227.78 L294.62,228.64 L294.99,229.50 L295.36,230.36 L295.73,231.23 L296.10,232.09 L296.46,232.96 L296.82,233.82 L297.18,234.69 L297.54,235.56 L297.89,236.43 L298.24,237.30 L298.59,238.17 L298.93,239.05 L299.27,239.92 L299.61,240.80 L299.95,241.67 L300.28,242.55 L300.61,243.43 L300.94,244.31 L301.26,245.19 L301.58,246.08 L301.90,246.96 L302.21,247.84 L302.53,248.73 L302.84,249.62 L303.14,250.51 L303.44,251.40 L303.74,252.29 L304.04,253.18 L304.33,254.07 L304.62,254.97 L304.91,255.86 L305.20,256.76 L305.48,257.66 L305.75,258.56 L306.03,259.46 L306.30,260.36 L306.57,261.26 L306.83,262.17 L307.09,263.07 L307.35,263.98 L307.60,264.89 L307.85,265.80 L308.10,266.71 L308.34,267.62 L308.58,268.53 L308.82,269.45 L309.05,270.36 L309.28,271.28 L309.50,272.20" stroke="#1a1718" stroke-dasharray="7.5 3" stroke-width="2.6"/>
<path d="M53.00,64.41 L53.89,64.33 L54.78,64.24 L55.67,64.16 L56.56,64.08 L57.46,64.01 L58.35,63.93 L59.24,63.86 L60.14,63.80 L61.04,63.73 L61.93,63.67 L62.83,63.61 L63.73,63.56 L64.63,63.51 L65.53,63.46 L66.43,63.41 L67.33,63.37 L68.23,63.33 L69.13,63.29 L70.03,63.26 L70.93,63.22 L71.84,63.20 L72.74,63.17 L73.65,63.15 L74.55,63.13 L75.45,63.12 L76.36,63.11 L77.26,63.10 L78.17,63.09 L79.08,63.09 L79.98,63.09 L80.89,63.09 L81.79,63.10 L82.70,63.11 L83.61,63.13 L84.51,63.15 L85.42,63.17 L86.33,63.19 L87.23,63.22 L88.14,63.25 L89.05,63.28 L89.96,63.32 L90.86,63.36 L91.77,63.41 L92.68,63.46 L93.58,63.51 L94.49,63.56 L95.39,63.62 L96.30,63.69 L97.20,63.75 L98.11,63.82 L99.01,63.90 L99.92,63.97 L100.82,64.05 L101.73,64.14 L102.63,64.23 L103.53,64.32 L104.44,64.41 L105.34,64.51 L106.24,64.61 L107.14,64.72 L108.04,64.83 L108.94,64.94 L109.84,65.06 L110.74,65.18 L111.63,65.31 L112.53,65.44 L113.43,65.57 L114.32,65.71 L115.22,65.85 L116.11,66.00 L117.00,66.14 L117.90,66.30 L118.79,66.45 L119.68,66.61 L120.57,66.78 L121.46,66.95 L122.34,67.12 L123.23,67.30 L124.12,67.48 L125.00,67.66 L125.89,67.85 L126.77,68.04 L127.65,68.24 L128.53,68.44 L129.41,68.65 L130.29,68.86 L131.16,69.07 L132.04,69.29 L132.91,69.51 L133.78,69.74 L134.65,69.97 L135.52,70.20 L136.39,70.44 L137.26,70.69 L138.13,70.94 L138.99,71.19 L139.85,71.44 L140.71,71.71 L141.57,71.97 L142.43,72.24 L143.29,72.51 L144.14,72.79 L145.00,73.08 L145.85,73.36 L146.70,73.66 L147.54,73.95 L148.39,74.25 L149.24,74.56 L150.08,74.87 L150.92,75.18 L151.76,75.50 L152.60,75.83 L153.43,76.15 L154.26,76.49 L155.10,76.83 L155.93,77.17 L156.75,77.51 L157.58,77.87 L158.40,78.22 L159.22,78.58 L160.04,78.95 L160.86,79.32 L161.67,79.70 L162.49,80.08 L163.30,80.46 L164.11,80.85 L164.91,81.24 L165.72,81.64 L166.52,82.05 L167.32,82.46 L168.11,82.87 L168.91,83.29 L169.70,83.71 L170.49,84.14 L171.28,84.58 L172.06,85.02 L172.84,85.46 L173.62,85.91 L174.40,86.36 L175.17,86.82 L175.95,87.28 L176.72,87.75 L177.48,88.22 L178.25,88.69 L179.01,89.17 L179.77,89.66 L180.53,90.15 L181.29,90.64 L182.04,91.14 L182.79,91.64 L183.54,92.14 L184.29,92.65 L185.03,93.17 L185.77,93.68 L186.51,94.21 L187.25,94.73 L187.98,95.26 L188.71,95.79 L189.44,96.33 L190.17,96.87 L190.90,97.41 L191.62,97.96 L192.34,98.51 L193.06,99.06 L193.78,99.62 L194.49,100.18 L195.20,100.74 L195.91,101.31 L196.62,101.88 L197.32,102.45 L198.03,103.02 L198.73,103.60 L199.42,104.18 L200.12,104.77 L200.81,105.35 L201.51,105.94 L202.20,106.54 L202.88,107.13 L203.57,107.73 L204.25,108.33 L204.93,108.93 L205.61,109.54 L206.29,110.14 L206.96,110.75 L207.63,111.37 L208.30,111.98 L208.97,112.60 L209.64,113.21 L210.30,113.83 L210.96,114.46 L211.62,115.08 L212.28,115.71 L212.93,116.34 L213.58,116.96 L214.24,117.60 L214.88,118.23 L215.53,118.86 L216.18,119.50 L216.82,120.14 L217.46,120.78 L218.10,121.42 L218.73,122.06 L219.37,122.70 L220.00,123.35 L220.63,123.99 L221.26,124.64 L221.88,125.29 L222.51,125.93 L223.13,126.58 L223.75,127.23 L224.37,127.89 L224.98,128.54 L225.60,129.19 L226.21,129.84 L226.82,130.50 L227.43,131.15 L228.03,131.81 L228.64,132.46 L229.25,133.12 L229.85,133.77 L230.46,134.43 L231.06,135.08 L231.67,135.73 L232.28,136.38 L232.88,137.03 L233.50,137.68 L234.11,138.32 L234.73,138.96 L235.35,139.60 L235.97,140.24 L236.60,140.87 L237.24,141.50 L237.87,142.13 L238.52,142.75 L239.17,143.37 L239.82,143.98 L240.48,144.59 L241.14,145.20 L241.80,145.81 L242.47,146.42 L243.13,147.03 L243.79,147.64 L244.45,148.26 L245.10,148.88 L245.76,149.50 L246.40,150.12 L247.04,150.75 L247.67,151.39 L248.30,152.03 L248.92,152.68 L249.53,153.34 L250.13,154.00 L250.72,154.67 L251.31,155.34 L251.90,156.02 L252.47,156.70 L253.04,157.39 L253.60,158.09 L254.16,158.79 L254.71,159.49 L255.26,160.20 L255.80,160.92 L256.33,161.63 L256.86,162.36 L257.39,163.08 L257.91,163.81 L258.42,164.55 L258.93,165.29 L259.44,166.03 L259.94,166.78 L260.43,167.53 L260.93,168.28 L261.42,169.04 L261.90,169.80 L262.38,170.56 L262.86,171.32 L263.33,172.09 L263.81,172.86 L264.27,173.64 L264.74,174.41 L265.20,175.19 L265.66,175.97 L266.12,176.75 L266.58,177.53 L267.03,178.32 L267.48,179.10 L267.93,179.89 L268.38,180.68 L268.83,181.47 L269.27,182.26 L269.72,183.05 L270.16,183.84 L270.60,184.64 L271.04,185.43 L271.48,186.22 L271.92,187.02 L272.37,187.81 L272.81,188.61 L273.24,189.40 L273.68,190.19 L274.12,190.99 L274.56,191.78 L275.00,192.58 L275.44,193.37 L275.88,194.16 L276.31,194.96 L276.75,195.75 L277.18,196.55 L277.62,197.34 L278.05,198.14 L278.49,198.94 L278.92,199.73 L279.35,200.53 L279.78,201.32 L280.21,202.12 L280.64,202.92 L281.07,203.72 L281.49,204.51 L281.92,205.31 L282.34,206.11 L282.77,206.91 L283.19,207.71 L283.61,208.51 L284.03,209.31 L284.44,210.11 L284.86,210.91 L285.28,211.72 L285.69,212.52 L286.10,213.32 L286.51,214.13 L286.92,214.93 L287.33,215.74 L287.73,216.54 L288.13,217.35 L288.54,218.16 L288.94,218.96 L289.33,219.77 L289.73,220.58 L290.12,221.39 L290.51,222.21 L290.90,223.02 L291.29,223.83 L291.67,224.64 L292.06,225.46 L292.44,226.27 L292.82,227.09 L293.19,227.91 L293.57,228.73 L293.94,229.55 L294.31,230.37 L294.67,231.19 L295.03,232.01 L295.40,232.83 L295.75,233.66 L296.11,234.48 L296.46,235.31 L296.81,236.14 L297.16,236.97 L297.50,237.80 L297.84,238.63 L298.18,239.46 L298.52,240.30 L298.85,241.13 L299.18,241.97 L299.50,242.81 L299.83,243.65 L300.15,244.49 L300.46,245.33 L300.78,246.17 L301.09,247.02 L301.39,247.86 L301.69,248.71 L301.99,249.56 L302.29,250.41 L302.58,251.26 L302.87,252.11 L303.15,252.97 L303.43,253.83 L303.71,254.68 L303.98,255.54 L304.25,256.41 L304.52,257.27 L304.78,258.13 L305.04,259.00 L305.29,259.87 L305.54,260.74 L305.79,261.61 L306.03,262.48 L306.27,263.35 L306.50,264.23 L306.73,265.11 L306.95,265.99 L307.17,266.87 L307.39,267.76 L307.60,268.64 L307.80,269.53 L308.01,270.42 L308.20,271.31 L308.40,272.20" stroke="#2c4ca4" stroke-dasharray="7.5 3" stroke-width="2.6"/>
<path d="M53.00,53.20 L53.91,53.05 L54.83,52.91 L55.74,52.77 L56.66,52.64 L57.57,52.50 L58.49,52.38 L59.41,52.26 L60.33,52.14 L61.24,52.03 L62.16,51.92 L63.08,51.82 L64.00,51.72 L64.92,51.62 L65.84,51.54 L66.76,51.45 L67.68,51.37 L68.61,51.30 L69.53,51.23 L70.45,51.16 L71.37,51.10 L72.29,51.04 L73.22,50.99 L74.14,50.95 L75.06,50.91 L75.98,50.87 L76.91,50.84 L77.83,50.81 L78.75,50.79 L79.67,50.77 L80.60,50.76 L81.52,50.75 L82.44,50.75 L83.36,50.75 L84.29,50.76 L85.21,50.78 L86.13,50.79 L87.05,50.82 L87.97,50.84 L88.89,50.88 L89.81,50.92 L90.73,50.96 L91.65,51.01 L92.57,51.06 L93.49,51.12 L94.40,51.18 L95.32,51.25 L96.24,51.33 L97.15,51.41 L98.07,51.49 L98.98,51.58 L99.90,51.68 L100.81,51.78 L101.72,51.88 L102.63,51.99 L103.55,52.11 L104.46,52.23 L105.36,52.36 L106.27,52.49 L107.18,52.63 L108.09,52.77 L108.99,52.92 L109.90,53.07 L110.80,53.23 L111.70,53.40 L112.60,53.57 L113.50,53.74 L114.40,53.93 L115.30,54.11 L116.20,54.30 L117.09,54.50 L117.99,54.71 L118.88,54.91 L119.77,55.13 L120.66,55.35 L121.55,55.58 L122.44,55.81 L123.32,56.04 L124.21,56.29 L125.09,56.53 L125.97,56.79 L126.85,57.04 L127.73,57.31 L128.61,57.58 L129.48,57.85 L130.36,58.13 L131.23,58.41 L132.10,58.70 L132.97,58.99 L133.84,59.29 L134.71,59.60 L135.58,59.91 L136.44,60.22 L137.30,60.54 L138.17,60.86 L139.03,61.19 L139.88,61.52 L140.74,61.85 L141.60,62.19 L142.45,62.54 L143.30,62.89 L144.15,63.24 L145.00,63.60 L145.85,63.96 L146.70,64.33 L147.54,64.70 L148.38,65.07 L149.22,65.45 L150.06,65.84 L150.90,66.22 L151.74,66.61 L152.57,67.01 L153.41,67.41 L154.24,67.81 L155.07,68.21 L155.90,68.62 L156.72,69.04 L157.55,69.45 L158.37,69.87 L159.19,70.30 L160.01,70.72 L160.83,71.15 L161.65,71.59 L162.46,72.02 L163.28,72.46 L164.09,72.91 L164.90,73.35 L165.71,73.80 L166.51,74.26 L167.32,74.71 L168.12,75.17 L168.92,75.63 L169.72,76.10 L170.52,76.56 L171.32,77.03 L172.11,77.51 L172.90,77.98 L173.69,78.46 L174.48,78.94 L175.27,79.43 L176.05,79.91 L176.83,80.40 L177.61,80.89 L178.39,81.39 L179.17,81.89 L179.94,82.39 L180.72,82.89 L181.49,83.40 L182.25,83.91 L183.02,84.43 L183.78,84.94 L184.54,85.46 L185.30,85.98 L186.06,86.51 L186.81,87.04 L187.56,87.57 L188.31,88.10 L189.06,88.64 L189.80,89.18 L190.55,89.73 L191.28,90.27 L192.02,90.82 L192.76,91.38 L193.49,91.93 L194.22,92.49 L194.94,93.05 L195.66,93.62 L196.39,94.19 L197.10,94.76 L197.82,95.34 L198.53,95.92 L199.24,96.50 L199.95,97.08 L200.65,97.67 L201.35,98.26 L202.05,98.86 L202.74,99.46 L203.43,100.06 L204.12,100.66 L204.81,101.27 L205.49,101.88 L206.17,102.50 L206.84,103.12 L207.52,103.74 L208.19,104.36 L208.85,104.99 L209.52,105.62 L210.18,106.26 L210.84,106.89 L211.49,107.53 L212.15,108.18 L212.80,108.82 L213.44,109.47 L214.09,110.12 L214.73,110.78 L215.37,111.43 L216.01,112.09 L216.65,112.75 L217.28,113.42 L217.91,114.08 L218.54,114.75 L219.16,115.42 L219.79,116.10 L220.41,116.77 L221.03,117.45 L221.65,118.13 L222.26,118.81 L222.87,119.50 L223.49,120.18 L224.10,120.87 L224.70,121.56 L225.31,122.25 L225.91,122.94 L226.51,123.64 L227.11,124.34 L227.71,125.03 L228.31,125.73 L228.90,126.43 L229.50,127.14 L230.09,127.84 L230.68,128.55 L231.27,129.25 L231.86,129.96 L232.44,130.67 L233.03,131.38 L233.61,132.10 L234.20,132.81 L234.78,133.52 L235.36,134.24 L235.93,134.96 L236.51,135.67 L237.08,136.39 L237.66,137.11 L238.23,137.83 L238.80,138.56 L239.37,139.28 L239.94,140.01 L240.50,140.73 L241.07,141.46 L241.63,142.19 L242.19,142.92 L242.75,143.65 L243.31,144.38 L243.87,145.11 L244.42,145.85 L244.98,146.58 L245.53,147.32 L246.08,148.05 L246.63,148.79 L247.18,149.53 L247.72,150.27 L248.27,151.01 L248.81,151.76 L249.35,152.50 L249.89,153.24 L250.43,153.99 L250.97,154.74 L251.50,155.48 L252.04,156.23 L252.57,156.98 L253.10,157.73 L253.63,158.48 L254.15,159.23 L254.68,159.99 L255.20,160.74 L255.73,161.50 L256.25,162.26 L256.77,163.01 L257.28,163.77 L257.80,164.53 L258.32,165.29 L258.83,166.05 L259.34,166.82 L259.85,167.58 L260.36,168.35 L260.87,169.11 L261.37,169.88 L261.88,170.65 L262.38,171.42 L262.88,172.19 L263.38,172.96 L263.88,173.73 L264.37,174.50 L264.87,175.28 L265.36,176.05 L265.85,176.83 L266.34,177.61 L266.83,178.38 L267.32,179.16 L267.80,179.94 L268.29,180.73 L268.77,181.51 L269.25,182.29 L269.73,183.08 L270.21,183.86 L270.68,184.65 L271.16,185.44 L271.63,186.23 L272.10,187.02 L272.57,187.81 L273.04,188.60 L273.51,189.39 L273.97,190.19 L274.44,190.98 L274.90,191.78 L275.36,192.57 L275.82,193.37 L276.28,194.17 L276.73,194.97 L277.19,195.77 L277.64,196.58 L278.09,197.38 L278.54,198.18 L278.98,198.99 L279.43,199.80 L279.87,200.60 L280.31,201.41 L280.75,202.22 L281.19,203.03 L281.63,203.85 L282.06,204.66 L282.49,205.47 L282.92,206.29 L283.35,207.10 L283.78,207.92 L284.20,208.74 L284.62,209.56 L285.04,210.38 L285.46,211.20 L285.87,212.02 L286.29,212.84 L286.70,213.67 L287.11,214.49 L287.51,215.32 L287.92,216.15 L288.32,216.98 L288.72,217.81 L289.12,218.64 L289.51,219.47 L289.91,220.30 L290.30,221.14 L290.69,221.97 L291.07,222.81 L291.46,223.64 L291.84,224.48 L292.22,225.32 L292.59,226.16 L292.97,227.00 L293.34,227.84 L293.71,228.69 L294.07,229.53 L294.44,230.38 L294.80,231.22 L295.16,232.07 L295.51,232.92 L295.87,233.77 L296.22,234.62 L296.56,235.47 L296.91,236.32 L297.25,237.18 L297.59,238.03 L297.93,238.89 L298.26,239.75 L298.60,240.60 L298.92,241.46 L299.25,242.32 L299.57,243.19 L299.89,244.05 L300.21,244.91 L300.53,245.78 L300.84,246.64 L301.15,247.51 L301.45,248.37 L301.75,249.24 L302.05,250.11 L302.35,250.98 L302.64,251.86 L302.93,252.73 L303.22,253.60 L303.50,254.48 L303.79,255.35 L304.06,256.23 L304.34,257.11 L304.61,257.99 L304.88,258.87 L305.14,259.75 L305.40,260.63 L305.66,261.52 L305.92,262.40 L306.17,263.29 L306.42,264.17 L306.66,265.06 L306.91,265.95 L307.14,266.84 L307.38,267.73 L307.61,268.62 L307.84,269.51 L308.06,270.41 L308.28,271.30 L308.50,272.20" stroke="#ea1c24" stroke-dasharray="7.5 3" stroke-width="2.6"/>
</g>
<rect x="53.0" y="30.6" width="306.0" height="241.6" fill="none" stroke="#1a1718" stroke-width="1.6"/>
<path d="M83.6,272.2 v-4.2 M83.6,30.6 v4.2 M114.2,272.2 v-4.2 M114.2,30.6 v4.2 M144.8,272.2 v-4.2 M144.8,30.6 v4.2 M175.4,272.2 v-4.2 M175.4,30.6 v4.2 M206.0,272.2 v-4.2 M206.0,30.6 v4.2 M236.6,272.2 v-4.2 M236.6,30.6 v4.2 M267.2,272.2 v-4.2 M267.2,30.6 v4.2 M297.8,272.2 v-4.2 M297.8,30.6 v4.2 M328.4,272.2 v-4.2 M328.4,30.6 v4.2 M53.0,257.50 h2.5 M359.0,257.50 h-2.5 M53.0,243.35 h2.5 M359.0,243.35 h-2.5 M53.0,229.20 h2.5 M359.0,229.20 h-2.5 M53.0,215.05 h2.5 M359.0,215.05 h-2.5 M53.0,200.90 h3.6 M359.0,200.90 h-3.6 M53.0,186.75 h2.5 M359.0,186.75 h-2.5 M53.0,172.60 h2.5 M359.0,172.60 h-2.5 M53.0,158.45 h2.5 M359.0,158.45 h-2.5 M53.0,144.30 h2.5 M359.0,144.30 h-2.5 M53.0,130.15 h3.6 M359.0,130.15 h-3.6 M53.0,116.00 h2.5 M359.0,116.00 h-2.5 M53.0,101.85 h2.5 M359.0,101.85 h-2.5 M53.0,87.70 h2.5 M359.0,87.70 h-2.5 M53.0,73.55 h2.5 M359.0,73.55 h-2.5 M53.0,59.40 h3.6 M359.0,59.40 h-3.6 M53.0,45.25 h2.5 M359.0,45.25 h-2.5" stroke="#1a1718" stroke-width="1.1" fill="none"/>
<rect x="78.5" y="142.4" width="73.0" height="108.9" fill="#fff" stroke="#1a1718" stroke-width="1.3"/>
<line x1="86.1" y1="153.85" x2="116.9" y2="153.85" stroke="#1a1718" stroke-width="2.05"/>
<line x1="86.1" y1="169.95" x2="116.9" y2="169.95" stroke="#2c4ca4" stroke-width="2.05"/>
<line x1="86.1" y1="185.8" x2="116.9" y2="185.8" stroke="#ea1c24" stroke-width="2.05"/>
<line x1="86.1" y1="201.8" x2="116.9" y2="201.8" stroke="#62b846" stroke-width="2.05"/>
<line x1="86.0" y1="221.85" x2="116.9" y2="221.85" stroke="#1a1718" stroke-width="2.4"/>
<line x1="86.0" y1="238.45" x2="116.9" y2="238.45" stroke="#1a1718" stroke-width="2.4" stroke-dasharray="7.6 1.75"/>
<text x="122.3" y="158.54999999999998" font-size="14.9">U<tspan font-size="8.8" dy="2.7">G</tspan></text>
<text x="122.3" y="174.64999999999998" font-size="14.9">U<tspan font-size="8.8" dy="2.7">K</tspan></text>
<text x="122.3" y="190.5" font-size="14.9">U<tspan font-size="8.8" dy="2.7">Z</tspan></text>
<text x="122.3" y="206.5" font-size="14.9">U<tspan font-size="8.8" dy="2.7">c</tspan></text>
<text x="123.5" y="225.5" font-size="14.5">σ<tspan font-size="8.5" dy="2.6">F</tspan></text>
<text x="123.5" y="242.4" font-size="14.5">σ<tspan font-size="8.5" dy="2.6">Z</tspan></text>
<text x="55.8" y="285.8" font-size="15" text-anchor="middle">0.90</text>
<text x="116.2" y="285.8" font-size="15" text-anchor="middle">0.92</text>
<text x="177.4" y="285.8" font-size="15" text-anchor="middle">0.94</text>
<text x="299.5" y="285.8" font-size="15" text-anchor="middle">0.98</text>
<text x="372.0" y="285.6" font-size="14.3" text-anchor="end">1.00</text>
<text x="25.4" y="65.6" font-size="14.2">10<tspan font-size="8.4" dy="-5.6" dx="0">5</tspan></text>
<text x="25.4" y="136.3" font-size="14.2">10<tspan font-size="8.4" dy="-5.6" dx="0">0</tspan></text>
<text x="25.4" y="207.1" font-size="14.2">10<tspan font-size="8.4" dy="-5.6" dx="0">-5</tspan></text>
<text x="25.4" y="277.8" font-size="14.2">10<tspan font-size="8.4" dy="-5.6" dx="0">-10</tspan></text>
<text transform="translate(18.2,165.8) rotate(-90)" font-size="14.6">Rm<tspan font-size="9" dy="-4.5" dx="0.5">(1)</tspan></text>
<text x="195.6" y="296.4" font-size="15.6">r/r<tspan font-size="10" dy="3.4">J</tspan></text>
<text x="251.2" y="10.3" font-size="12.5" text-anchor="middle">0.965</text>
<text x="216.4" y="24.2" font-size="12.5">0.963</text>
<text x="257.8" y="24.2" font-size="12.5">0.967</text>
<text x="198.0" y="311.1" font-size="12.5">0.957</text>
<text x="236.8" y="311.1" font-size="12.5">0.960</text>
<text x="216.4" y="324.6" font-size="12.5">0.958</text>
</svg></body></html>
